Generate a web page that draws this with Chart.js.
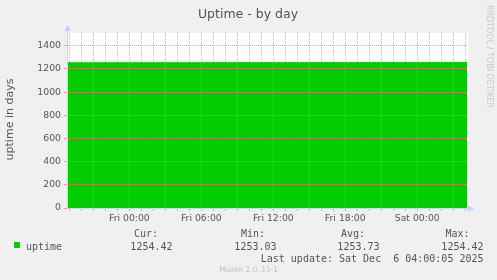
<!DOCTYPE html>
<html>
<head>
<meta charset="utf-8">
<script src="https://cdn.jsdelivr.net/npm/chart.js@4/dist/chart.umd.min.js"></script>
<style>
  html, body { margin: 0; padding: 0; background: #f0f0f0; }
  canvas { display: block; }
</style>
</head>
<body>
<canvas id="uptimeChart" width="497" height="280"></canvas>
<script>
// hours relative to Fri 00:00
const sampleHours = [-5.2, 0, 6, 12, 18, 24, 28.15];
const uptimeDays = [1253.03, 1253.25, 1253.5, 1253.75, 1254.0, 1254.25, 1254.42];

const xTickHours = [0, 6, 12, 18, 24];
const xTickLabels = ["Fri 00:00", "Fri 06:00", "Fri 12:00", "Fri 18:00", "Sat 00:00"];
const yTickValues = [0, 200, 400, 600, 800, 1000, 1200, 1400];

const legendHeads = ["Cur:", "Min:", "Avg:", "Max:"];
const legendValues = ["1254.42", "1253.03", "1253.73", "1254.42"];

const X_MIN = -5.2, X_MAX = 28.15, Y_MAX = 1510;

const gridGrey = "rgba(128,128,128,0.5)";
const gridRed = "rgba(245,128,128,0.75)";
const axisColor = "#d0d4f4";
const textColor = "#555555";

const mod3 = v => ((Math.round(v) % 3) + 3) % 3;

const frame = {
  id: "frame",
  beforeDraw(chart) {
    const { ctx, chartArea: a } = chart;
    ctx.save();
    ctx.fillStyle = "#f0f0f0";
    ctx.fillRect(0, 0, chart.width, chart.height);
    ctx.fillStyle = "#ffffff";
    ctx.fillRect(a.left, a.top, a.right - a.left + 2, a.bottom - a.top);
    ctx.restore();
  },
  afterDraw(chart) {
    const { ctx, chartArea: a } = chart;
    ctx.save();
    // solid axis lines + arrows
    ctx.strokeStyle = axisColor;
    ctx.lineWidth = 1;
    ctx.beginPath();
    ctx.moveTo(a.left + 0.5, a.bottom + 1);
    ctx.lineTo(a.left + 0.5, a.top - 3);
    ctx.moveTo(a.left, a.bottom + 0.5);
    ctx.lineTo(a.right + 3, a.bottom + 0.5);
    ctx.stroke();
    ctx.fillStyle = "#c4cbff";
    ctx.beginPath();
    ctx.moveTo(a.left + 0.5, a.top - 8);
    ctx.lineTo(a.left - 2.5, a.top - 2);
    ctx.lineTo(a.left + 3.5, a.top - 2);
    ctx.closePath();
    ctx.fill();
    ctx.beginPath();
    ctx.moveTo(a.right + 7, a.bottom + 0.5);
    ctx.lineTo(a.right + 1, a.bottom - 2.5);
    ctx.lineTo(a.right + 1, a.bottom + 3.5);
    ctx.closePath();
    ctx.fill();

    // title
    ctx.fillStyle = textColor;
    ctx.font = '12.5px "DejaVu Sans"';
    ctx.textAlign = "center";
    ctx.textBaseline = "alphabetic";
    ctx.fillText("Uptime - by day", 248, 18);

    // y axis title
    ctx.save();
    ctx.translate(10.5, 119.5);
    ctx.rotate(-Math.PI / 2);
    ctx.font = '11px "DejaVu Sans"';
    ctx.textBaseline = "middle";
    ctx.fillText("uptime in days", 0, 0);
    ctx.restore();

    // rrdtool credit
    ctx.save();
    ctx.translate(488.7, 5);
    ctx.rotate(Math.PI / 2);
    ctx.fillStyle = "#c8c8c8";
    ctx.font = '8px "DejaVu Sans"';
    ctx.textAlign = "left";
    ctx.textBaseline = "middle";
    ctx.fillText("RRDTOOL / TOBI OETIKER", 0, 0);
    ctx.restore();

    // legend
    ctx.fillStyle = "#00cc00";
    ctx.fillRect(14, 242, 6, 6);
    ctx.fillStyle = textColor;
    ctx.font = '10px "DejaVu Sans Mono"';
    ctx.textAlign = "left";
    ctx.fillText("uptime", 26, 249.5);
    const headRight = [158, 265, 365, 469.5];
    const valRight = [172.5, 276.5, 379.5, 483.5];
    ctx.textAlign = "right";
    legendHeads.forEach((h, i) => ctx.fillText(h, headRight[i], 237.3));
    legendValues.forEach((v, i) => ctx.fillText(v, valRight[i], 250));
    ctx.fillText("Last update: Sat Dec  6 04:00:05 2025", 483.5, 261.5);

    ctx.fillStyle = "#c0c0c0";
    ctx.font = '7.8px "DejaVu Sans"';
    ctx.textAlign = "center";
    ctx.fillText("Munin 2.0.33-1", 248.6, 272);
    ctx.restore();
  }
};

new Chart(document.getElementById("uptimeChart"), {
  type: "line",
  data: {
    datasets: [{
      label: "uptime",
      data: sampleHours.map((h, i) => ({ x: h, y: uptimeDays[i] })),
      borderColor: "#00cc00",
      backgroundColor: "#00cc00",
      borderWidth: 1,
      pointRadius: 0,
      tension: 0,
      fill: "origin"
    }]
  },
  options: {
    responsive: false,
    devicePixelRatio: 1,
    animation: false,
    layout: { padding: { top: 33, right: 30, left: 0, bottom: 0 } },
    plugins: { legend: { display: false }, tooltip: { enabled: false }, title: { display: false } },
    scales: {
      x: {
        type: "linear",
        min: X_MIN,
        max: X_MAX,
        afterFit: s => { s.height = 72; },
        afterBuildTicks: s => {
          const t = [];
          for (let h = Math.ceil(X_MIN); h <= Math.floor(X_MAX); h++) t.push({ value: h });
          s.ticks = t;
        },
        grid: {
          z: 1,
          color: c => mod3(c.tick.value) === 0 ? gridRed : gridGrey,
          tickLength: 3,
          lineWidth: 1
        },
        border: { display: true, color: "rgba(0,0,0,0)", dash: [1, 1], z: 1 },
        ticks: {
          autoSkip: false,
          maxRotation: 0,
          padding: 2,
          color: textColor,
          font: { family: "DejaVu Sans", size: 9.3 },
          callback: v => {
            const i = xTickHours.indexOf(v);
            return i >= 0 ? xTickLabels[i] : "";
          }
        }
      },
      y: {
        min: 0,
        max: Y_MAX,
        afterFit: s => { s.width = 67; },
        afterBuildTicks: s => {
          const t = [];
          for (let v = 0; v <= 1500; v += 100) t.push({ value: v });
          s.ticks = t;
        },
        grid: {
          z: 1,
          color: c => c.tick.value % 200 === 0 ? gridRed : gridGrey,
          tickLength: 3,
          lineWidth: 1
        },
        border: { display: true, color: "rgba(0,0,0,0)", dash: [1, 1], z: 1 },
        ticks: {
          padding: 3,
          color: textColor,
          font: { family: "DejaVu Sans", size: 9.3 },
          callback: v => yTickValues.includes(v) ? String(v) : ""
        }
      }
    }
  },
  plugins: [frame]
});
</script>
</body>
</html>
